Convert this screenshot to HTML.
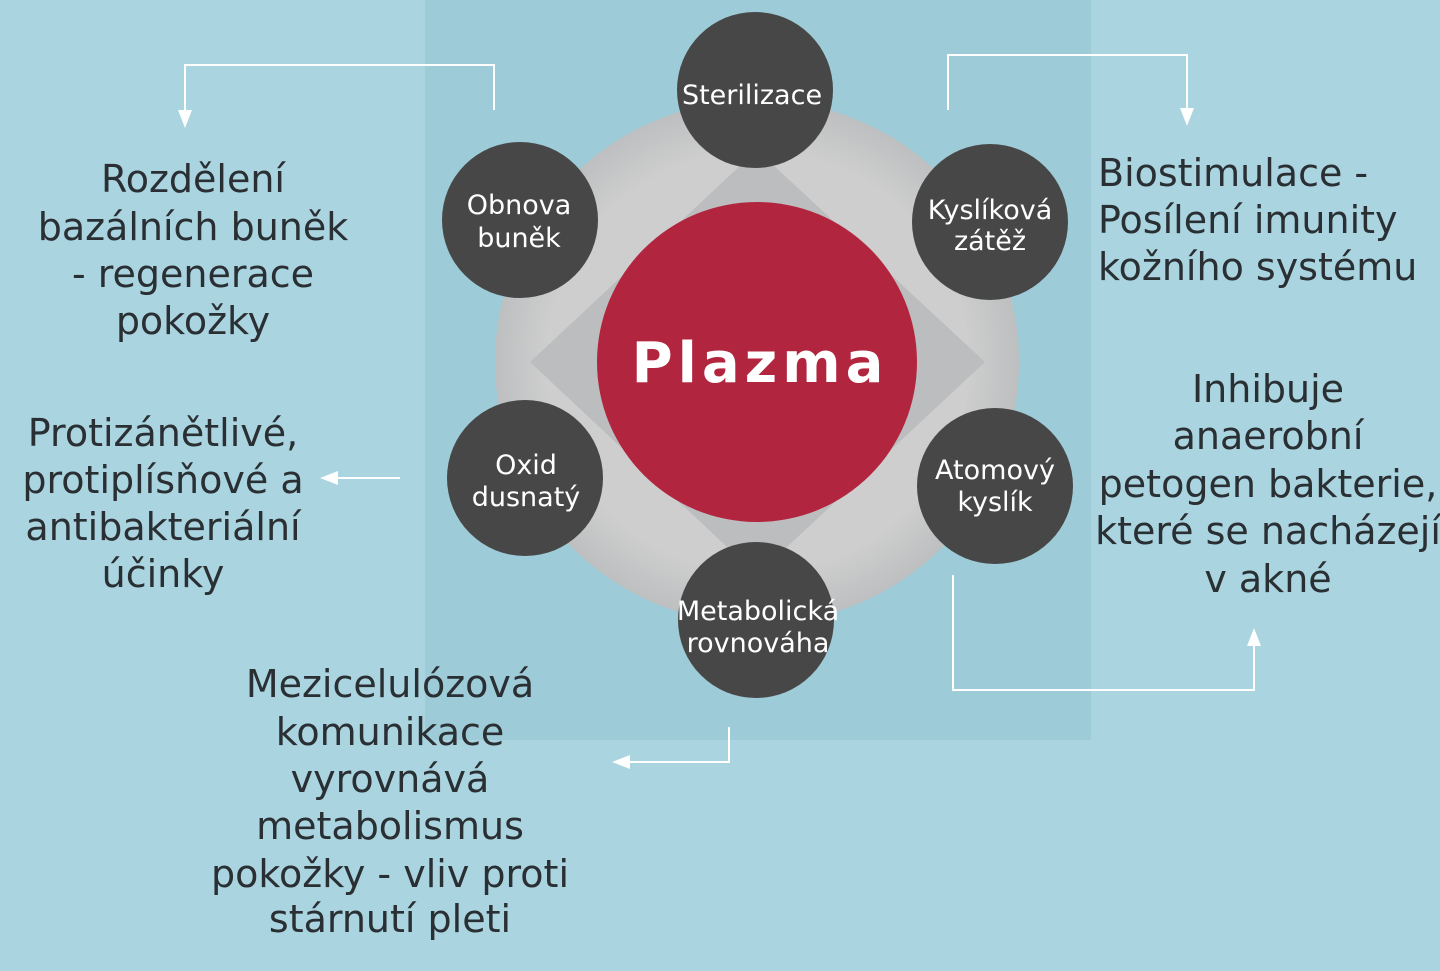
<!DOCTYPE html>
<html><head><meta charset="utf-8"><style>
html,body{margin:0;padding:0;width:1440px;height:971px;overflow:hidden;background:#aad4e0}
svg{display:block}
text{font-family:"DejaVu Sans","Liberation Sans",sans-serif}
</style></head><body>
<svg width="1440" height="971" viewBox="0 0 1440 971" xmlns="http://www.w3.org/2000/svg">
<defs>
<radialGradient id="g" cx="50%" cy="50%" r="50%"><stop offset="0.8" stop-color="#cecece"/><stop offset="1" stop-color="#bdbfc0"/></radialGradient>
<marker id="a" markerWidth="18" markerHeight="18" refX="2" refY="7" orient="auto" markerUnits="userSpaceOnUse" viewBox="0 0 18 14"><path d="M0,0 L18,7 L0,14 z" fill="#fff"/></marker>
</defs>
<rect width="1440" height="971" fill="#aad4e0"/>
<rect x="425" y="0" width="666" height="740" fill="#9ecbd8"/>
<circle cx="757" cy="362" r="262" fill="url(#g)"/>
<polygon points="757,150 985,362 757,575 530,362" fill="#bcbdbe"/>
<circle cx="757" cy="362" r="160" fill="#b2253f"/>
<text x="760" y="382" font-size="56" font-weight="bold" fill="#fff" text-anchor="middle" letter-spacing="5">Plazma</text>
<g fill="#474747">
<circle cx="755" cy="90" r="78"/><circle cx="520" cy="220" r="78"/><circle cx="990" cy="222" r="78"/>
<circle cx="525" cy="478" r="78"/><circle cx="995" cy="486" r="78"/><circle cx="756" cy="620" r="78"/>
</g>
<g fill="#fff" font-size="27" text-anchor="middle">
<text x="752" y="104">Sterilizace</text>
<text x="519" y="214">Obnova</text><text x="519" y="247">buněk</text>
<text x="990" y="219">Kyslíková</text><text x="990" y="250">zátěž</text>
<text x="526" y="474">Oxid</text><text x="526" y="506">dusnatý</text>
<text x="995" y="479">Atomový</text><text x="995" y="511">kyslík</text>
<text x="758" y="620">Metabolická</text><text x="758" y="652">rovnováha</text>
</g>
<g stroke="#fff" stroke-width="2" fill="none">
<polyline points="494,110 494,65 185,65 185,112" marker-end="url(#a)"/>
<polyline points="948,110 948,55 1187,55 1187,110" marker-end="url(#a)"/>
<polyline points="400,478 336,478" marker-end="url(#a)"/>
<polyline points="953,575 953,690 1254,690 1254,644" marker-end="url(#a)"/>
<polyline points="729,727 729,762 628,762" marker-end="url(#a)"/>
</g>
<g fill="#2a2f33" font-size="38" text-anchor="middle">
<text x="193" y="192">Rozdělení</text><text x="193" y="240">bazálních buněk</text><text x="193" y="287">- regenerace</text><text x="193" y="334">pokožky</text>
<text x="163" y="446">Protizánětlivé,</text><text x="163" y="493">protiplísňové a</text><text x="163" y="540">antibakteriální</text><text x="163" y="587">účinky</text>
<text x="1268" y="402">Inhibuje</text><text x="1268" y="449">anaerobní</text><text x="1268" y="497">petogen bakterie,</text><text x="1268" y="544">které se nacházejí</text><text x="1268" y="592">v akné</text>
<text x="390" y="697">Mezicelulózová</text><text x="390" y="745">komunikace</text><text x="390" y="792">vyrovnává</text><text x="390" y="839">metabolismus</text><text x="390" y="887">pokožky - vliv proti</text><text x="390" y="932">stárnutí pleti</text>
</g>
<g fill="#2a2f33" font-size="38">
<text x="1098" y="186">Biostimulace -</text><text x="1098" y="233">Posílení imunity</text><text x="1098" y="280">kožního systému</text>
</g>
</svg>
</body></html>
